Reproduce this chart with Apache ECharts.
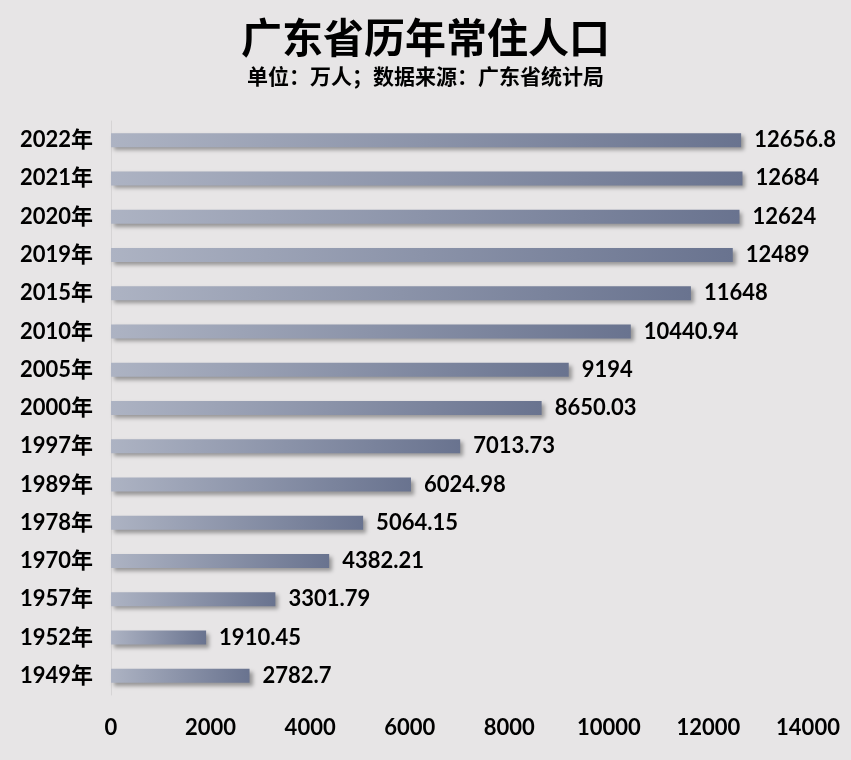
<!DOCTYPE html>
<html><head><meta charset="utf-8">
<script src="https://cdn.jsdelivr.net/npm/echarts@6/dist/echarts.min.js"></script>
<style>html,body{margin:0;padding:0;background:#e7e5e6}#c{width:851px;height:760px}</style>
</head><body><div id="c"></div>
<script>
var categories = ['1949年','1952年','1957年','1970年','1978年','1989年','1997年','2000年','2005年','2010年','2015年','2019年','2020年','2021年','2022年'];
var values = [2782.7,1910.45,3301.79,4382.21,5064.15,6024.98,7013.73,8650.03,9194,10440.94,11648,12489,12624,12684,12656.8];
var xTicks = {min:0,max:14000,interval:2000};
var titleText = '广东省历年常住人口';
var subText = '单位：万人；数据来源：广东省统计局';

var chart = echarts.init(document.getElementById('c'));
var numFont = 'Lato, "Noto Sans CJK SC", sans-serif';
chart.setOption({
  backgroundColor:'#e7e5e6',
  title:{text:titleText, subtext:subText, left:'center', top:12, itemGap:8,
    textStyle:{fontSize:41,fontWeight:'bold',color:'#000',fontFamily:'"Noto Sans CJK SC", sans-serif'},
    subtextStyle:{fontSize:21,fontWeight:'bold',color:'#000',fontFamily:'"Noto Sans CJK SC", sans-serif'}},
  grid:{left:111,right:43,top:121,bottom:65},
  xAxis:{type:'value',min:xTicks.min,max:xTicks.max,interval:xTicks.interval,
    splitLine:{show:false},axisLine:{show:false},axisTick:{show:false},
    axisLabel:{margin:22,fontSize:22,fontWeight:'bold',color:'#000',fontFamily:numFont,
      formatter:function(v){return String(v);}}},
  yAxis:{type:'category',data:categories,
    axisLine:{show:true,lineStyle:{color:'#d6d4d5',width:1}},axisTick:{show:false},
    axisLabel:{margin:18,fontSize:22,fontWeight:'bold',color:'#000',fontFamily:numFont}},
  series:[{type:'bar',data:values,barWidth:14,
    itemStyle:{color:new echarts.graphic.LinearGradient(0,0,1,0,[{offset:0,color:'#adb3c3'},{offset:1,color:'#69738f'}]),
      shadowColor:'rgba(0,0,0,0.35)',shadowBlur:4,shadowOffsetX:3,shadowOffsetY:3},
    label:{show:true,position:'right',distance:13,fontSize:22,fontWeight:'bold',color:'#000',fontFamily:numFont}
  }]
});
</script></body></html>
